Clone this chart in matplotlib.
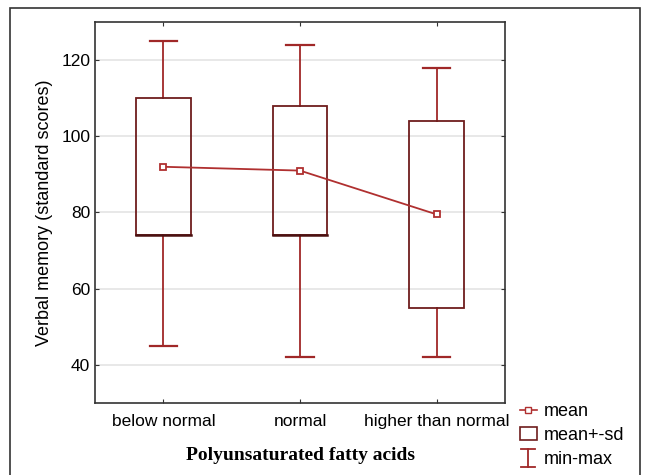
import matplotlib
matplotlib.use("Agg")
import matplotlib.pyplot as plt
from matplotlib.patches import Rectangle
from matplotlib.lines import Line2D

groups = ["below normal", "normal", "higher than normal"]
mean_vals = [92, 91, 79.5]
sd_low = [74, 74, 55]
sd_high = [110, 108, 104]
min_vals = [45, 42, 42]
max_vals = [125, 124, 118]

whisk_col = "#a02828"
box_col = "#6e1c1c"
mean_col = "#b03030"

plt.rcParams['font.family'] = ['Liberation Sans', 'DejaVu Sans']
fig = plt.figure(figsize=(6.49, 4.75), dpi=100)
ax = fig.add_axes([95/649, 1-403/475, 410/649, 381/475])

fig.patches.append(Rectangle((10/649, -0.1), 630/649, 1 - 8/475 + 0.1, transform=fig.transFigure,
                             fill=False, edgecolor="#333333", linewidth=1.2))

pos = [1, 2, 3]
w = 0.4
for i, p in enumerate(pos):
    ax.plot([p, p], [sd_high[i], max_vals[i]], color=whisk_col, lw=1.3, zorder=2)
    ax.plot([p, p], [min_vals[i], sd_low[i]], color=whisk_col, lw=1.3, zorder=2)
    ax.plot([p - 0.1, p + 0.1], [max_vals[i]] * 2, color=whisk_col, lw=1.6, zorder=2)
    ax.plot([p - 0.1, p + 0.1], [min_vals[i]] * 2, color=whisk_col, lw=1.6, zorder=2)
    ax.add_patch(Rectangle((p - w / 2, sd_low[i]), w, sd_high[i] - sd_low[i],
                           fill=False, edgecolor=box_col, lw=1.3, zorder=3))
    if i < 2:
        ax.plot([p - w / 2, p + w / 2], [sd_low[i]] * 2, color="#4a1010", lw=1.8, zorder=3)

ax.plot(pos, mean_vals, color=mean_col, lw=1.3, marker="s", markersize=5,
        markerfacecolor="white", markeredgecolor=mean_col, markeredgewidth=1.3, zorder=4)

ax.set_xlim(0.5, 3.5)
ax.set_ylim(30, 130)
ax.set_yticks([40, 60, 80, 100, 120])
ax.set_xticks(pos)
ax.set_xticklabels(groups, fontsize=12.5)
ax.tick_params(axis="y", labelsize=12.5)
ax.tick_params(direction="in", length=3, top=True, right=True, color="#333333")
ax.tick_params(axis="x", pad=8)
ax.grid(axis="y", color="#e4e4e4", lw=1.2)
ax.set_axisbelow(True)
for s in ax.spines.values():
    s.set_color("#333333")
    s.set_linewidth(1.2)

ax.set_ylabel("Verbal memory (standard scores)", fontsize=13, labelpad=6)
ax.set_xlabel("Polyunsaturated fatty acids", fontsize=14, family="Liberation Serif",
              fontweight="bold", labelpad=13)

handles = [
    Line2D([], [], color=mean_col, marker="s", markersize=4, markerfacecolor="white",
           markeredgecolor=mean_col, lw=1.2),
    Rectangle((0, 0), 1, 1, fill=False, edgecolor=box_col, lw=1.2),
    Line2D([], [], color=whisk_col, marker="|", markersize=0, lw=0),
]


class MinMaxHandler:
    def legend_artist(self, legend, orig_handle, fontsize, handlebox):
        x0, y0 = handlebox.xdescent, handlebox.ydescent
        wd, ht = handlebox.width, handlebox.height
        cx = x0 + wd / 2
        l1 = Line2D([cx, cx], [y0 - 2, y0 + ht + 2], color=whisk_col, lw=1.3,
                    transform=handlebox.get_transform())
        l2 = Line2D([cx - 5, cx + 5], [y0 + ht + 2] * 2, color=whisk_col, lw=1.3,
                    transform=handlebox.get_transform())
        l3 = Line2D([cx - 5, cx + 5], [y0 - 2] * 2, color=whisk_col, lw=1.3,
                    transform=handlebox.get_transform())
        for a in (l1, l2, l3):
            handlebox.add_artist(a)
        return l1


fig.legend(handles, ["mean", "mean+-sd", "min-max"], loc="upper left",
           bbox_to_anchor=(504/649, 1-387/475), frameon=False, fontsize=13,
           handlelength=0.9, handletextpad=0.4, labelspacing=0.38,
           handler_map={handles[2]: MinMaxHandler()})

fig.savefig("out.png", dpi=100)
